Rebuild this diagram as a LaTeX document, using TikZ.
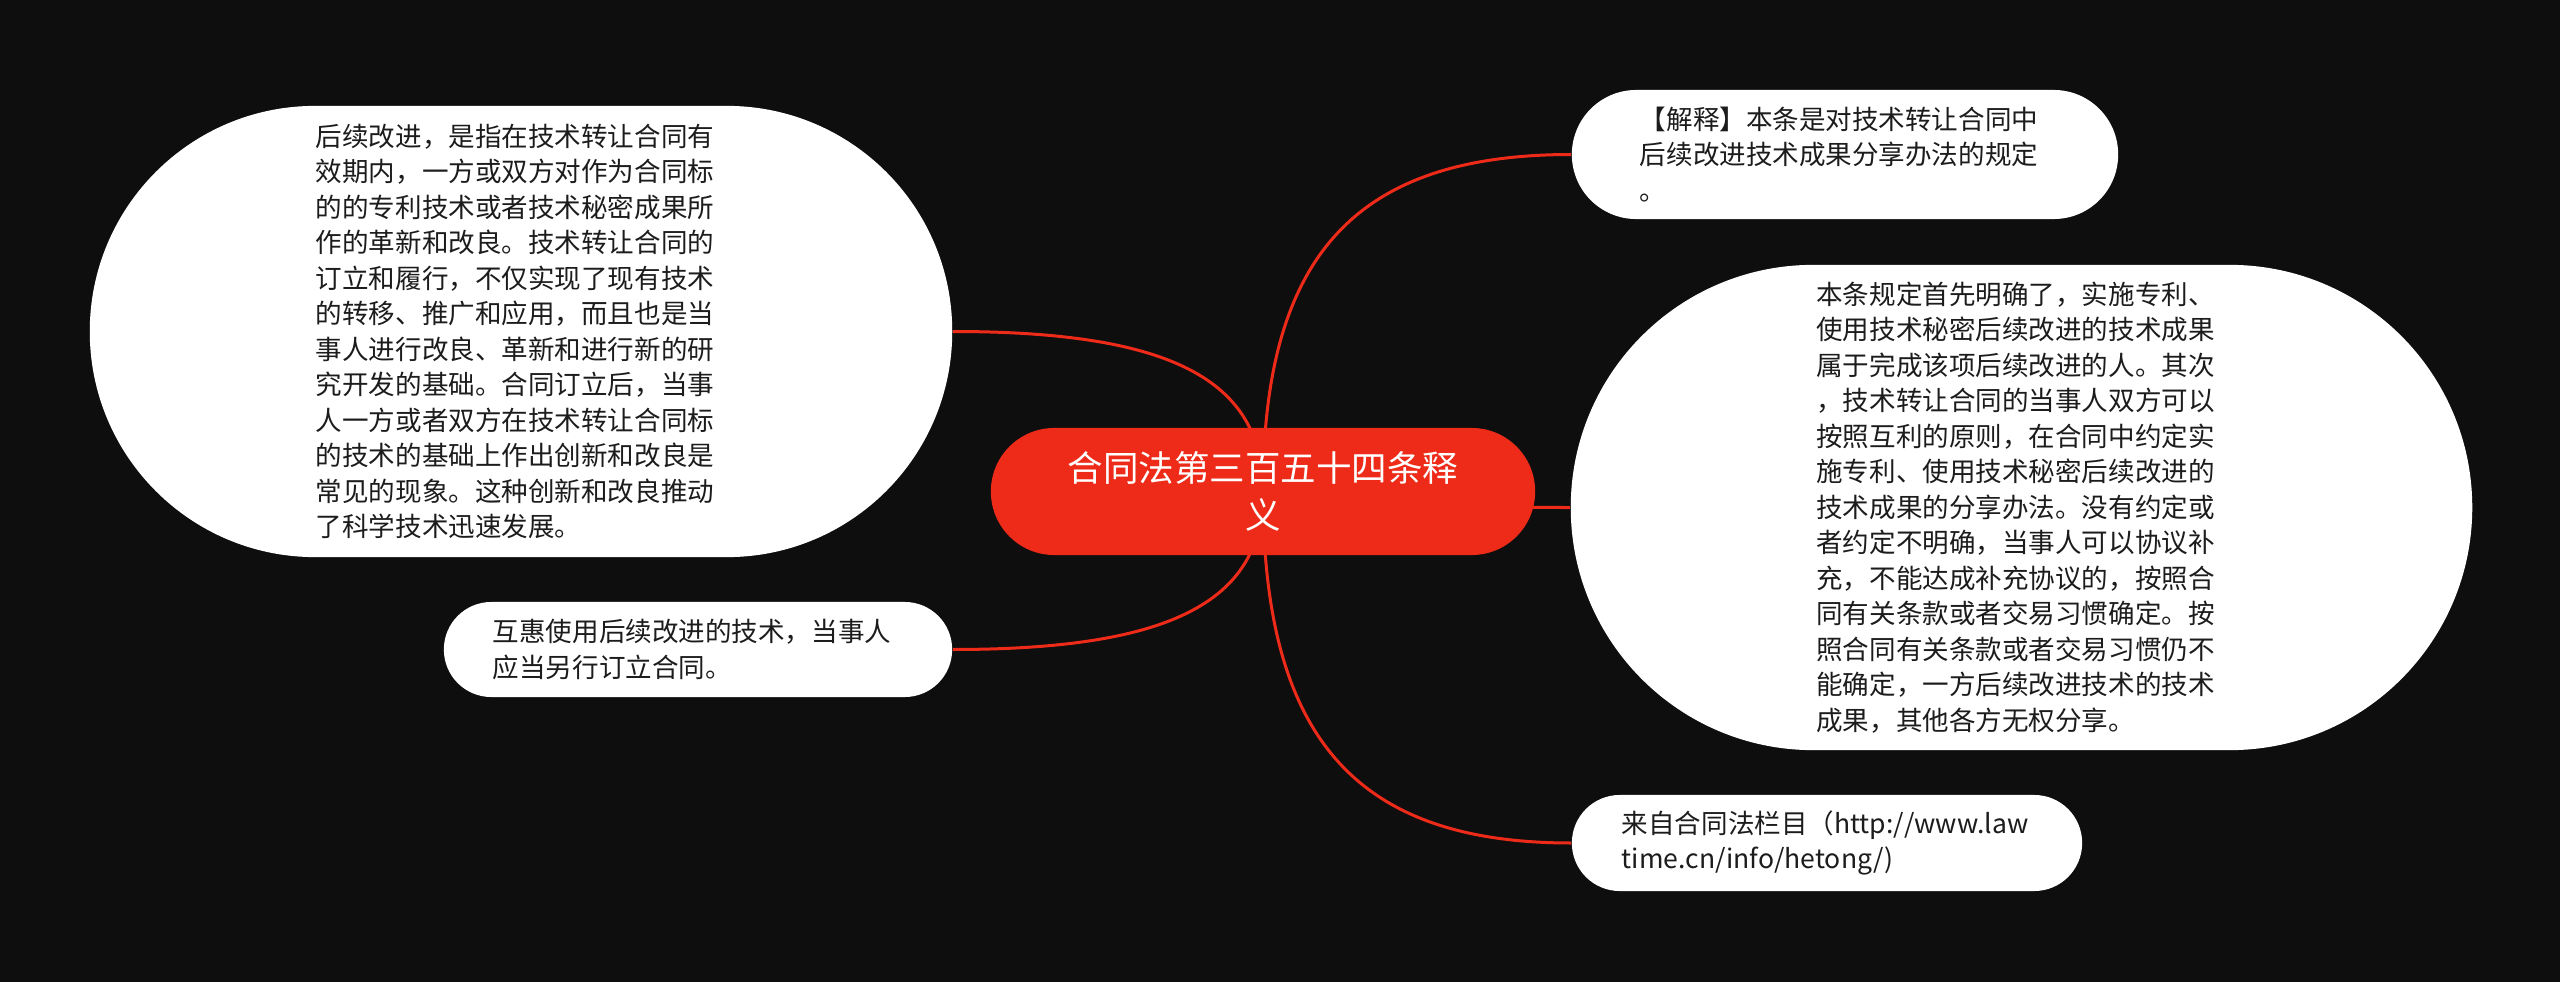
\documentclass[tikz,border=0pt]{standalone}
\usepackage{fontspec}
\setmainfont{Noto Sans CJK SC}
\usetikzlibrary{calc,backgrounds}

\definecolor{bgdark}{RGB}{14,14,15}
\definecolor{mmred}{RGB}{238,42,24}
\definecolor{txtdark}{RGB}{28,28,28}

\tikzset{
  topic/.style={fill=mmred, text=white, text width=4.1cm,
    align=center, inner sep=0pt,
    font=\fontsize{10.1pt}{13.4pt}\selectfont},
  leaf/.style={fill=white, text=txtdark, text width=4.1cm,
    align=left, inner sep=0pt,
    font=\fontsize{7.55pt}{10.1pt}\selectfont},
  pill/.style n args={2}{minimum width=#1, minimum height=#2, rounded corners=#2/2-0.01mm},
  branch/.style={draw=mmred, line width=0.03cm,
    to path={.. controls ($(\tikztostart)!.7!(\tikztostart |- \tikztotarget)$)
      and ($(\tikztotarget)!.7!(\tikztostart |- \tikztotarget)$) .. (\tikztotarget)}}
}

\begin{document}
\begin{tikzpicture}[x=0.01cm,y=-0.01cm]
    \useasboundingbox (0,0) rectangle (2560,982);

    % central topic
    \node[topic, pill={5.44cm}{1.27cm}] (root) at (1263,491.5)
        {合同法第三百五十四条释\\义};

    % right side
    \node[leaf, pill={5.46cm}{1.29cm}] (expl) at (1845,154.5)
        {【解释】本条是对技术转让合同中\\
         后续改进技术成果分享办法的规定\\
         。};
    \node[leaf, pill={9.01cm}{4.85cm}] (share) at (2021.5,507.5)
        {本条规定首先明确了，实施专利、\\
         使用技术秘密后续改进的技术成果\\
         属于完成该项后续改进的人。其次\\
         ，技术转让合同的当事人双方可以\\
         按照互利的原则，在合同中约定实\\
         施专利、使用技术秘密后续改进的\\
         技术成果的分享办法。没有约定或\\
         者约定不明确，当事人可以协议补\\
         充，不能达成补充协议的，按照合\\
         同有关条款或者交易习惯确定。按\\
         照合同有关条款或者交易习惯仍不\\
         能确定，一方后续改进技术的技术\\
         成果，其他各方无权分享。};
    \node[leaf, pill={5.10cm}{0.96cm}] (source) at (1827,843)
        {来自合同法栏目（http://www.law\\
         time.cn/info/hetong/)};

    % left side
    \node[leaf, pill={8.62cm}{4.51cm}] (define) at (521,331.5)
        {后续改进，是指在技术转让合同有\\
         效期内，一方或双方对作为合同标\\
         的的专利技术或者技术秘密成果所\\
         作的革新和改良。技术转让合同的\\
         订立和履行，不仅实现了现有技术\\
         的转移、推广和应用，而且也是当\\
         事人进行改良、革新和进行新的研\\
         究开发的基础。合同订立后，当事\\
         人一方或者双方在技术转让合同标\\
         的技术的基础上作出创新和改良是\\
         常见的现象。这种创新和改良推动\\
         了科学技术迅速发展。};
    \node[leaf, pill={5.08cm}{0.95cm}] (mutual) at (698,649.5)
        {互惠使用后续改进的技术，当事人\\
         应当另行订立合同。};

    \begin{scope}[on background layer]
        \fill[bgdark] (0,0) rectangle (2560,982);
        \draw[branch] (root.center) to (expl.west);
        \draw[branch] (root.center) to (share.west);
        \draw[branch] (root.center) to (source.west);
        \draw[branch] (root.center) to (define.east);
        \draw[branch] (root.center) to (mutual.east);
    \end{scope}
\end{tikzpicture}
\end{document}
